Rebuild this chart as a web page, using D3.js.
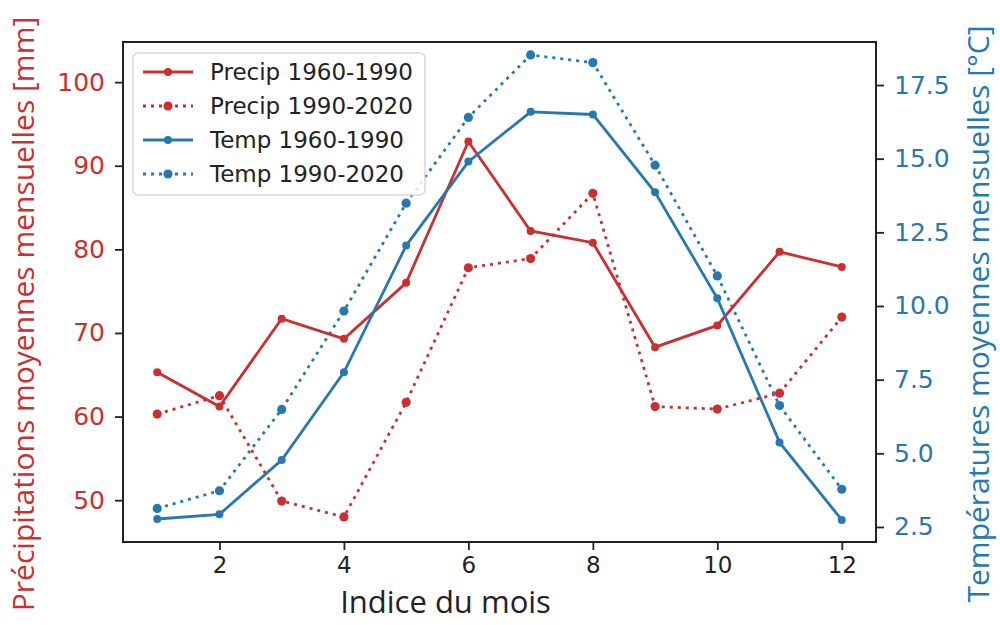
<!DOCTYPE html>
<html>
<head>
<meta charset="utf-8">
<script src="https://cdn.jsdelivr.net/npm/d3@7"></script>
<style>
  body { margin: 0; background: #fff; }
  svg { display: block; }
</style>
</head>
<body>
<svg id="chart"></svg>
<script>
// data
var months = [1, 2, 3, 4, 5, 6, 7, 8, 9, 10, 11, 12];
var precip6090 = [65.3, 61.2, 71.7, 69.3, 76.0, 92.9, 82.2, 80.8, 68.3, 70.9, 79.7, 77.9];
var precip9020 = [60.3, 62.5, 49.9, 48.0, 61.7, 77.8, 78.9, 86.7, 61.2, 60.9, 62.8, 71.9];
var temp6090 = [2.77, 2.93, 4.77, 7.75, 12.05, 14.9, 16.59, 16.5, 13.86, 10.26, 5.37, 2.74];
var temp9020 = [3.13, 3.73, 6.49, 9.83, 13.49, 16.4, 18.52, 18.26, 14.78, 11.02, 6.62, 3.78];
var xTicks = [2, 4, 6, 8, 10, 12];
var precipTicks = [50, 60, 70, 80, 90, 100];
var tempTicks = [2.5, 5.0, 7.5, 10.0, 12.5, 15.0, 17.5];
var legendLabels = ["Precip 1960-1990", "Precip 1990-2020", "Temp 1960-1990", "Temp 1990-2020"];

var width = 1000,
    height = 625;
var pLeft = 123, pRight = 876, pTop = 42, pBottom = 542;

var red = "#cc2f30",
    blue = "#2678b1";

var svg = d3.select("#chart")
    .attr("width", width)
    .attr("height", height);

var x = d3.scaleLinear().domain([0.45, 12.55]).range([pLeft, pRight]);
var yP = d3.scaleLinear().domain([45.0, 104.8]).range([pBottom, pTop]);
var yT = d3.scaleLinear().domain([1.99, 18.96]).range([pBottom, pTop]);

var tickFont = "'DejaVu Sans', sans-serif";

// bottom axis
var xAxis = svg.append("g")
    .attr("transform", "translate(0," + pBottom + ")")
    .call(d3.axisBottom(x).tickValues(xTicks).tickSize(8).tickPadding(7).tickFormat(d3.format("d")));
xAxis.select(".domain").remove();
xAxis.selectAll("line").attr("stroke", "#222").attr("stroke-width", 1.8);
xAxis.selectAll("text").style("font-family", tickFont).style("font-size", "23px").attr("fill", "#222");

// left axis
var yAxisL = svg.append("g")
    .attr("transform", "translate(" + pLeft + ",0)")
    .call(d3.axisLeft(yP).tickValues(precipTicks).tickSize(8).tickPadding(10).tickFormat(d3.format("d")));
yAxisL.select(".domain").remove();
yAxisL.selectAll("line").attr("stroke", "#222").attr("stroke-width", 1.8);
yAxisL.selectAll("text").style("font-family", tickFont).style("font-size", "25px").attr("fill", red);

// right axis
var yAxisR = svg.append("g")
    .attr("transform", "translate(" + pRight + ",0)")
    .call(d3.axisRight(yT).tickValues(tempTicks).tickSize(8).tickPadding(10).tickFormat(d3.format(".1f")));
yAxisR.select(".domain").remove();
yAxisR.selectAll("line").attr("stroke", "#222").attr("stroke-width", 1.8);
yAxisR.selectAll("text").style("font-family", tickFont).style("font-size", "25px").attr("fill", blue);

// frame
svg.append("rect")
    .attr("x", pLeft).attr("y", pTop)
    .attr("width", pRight - pLeft).attr("height", pBottom - pTop)
    .attr("fill", "none").attr("stroke", "#222").attr("stroke-width", 2);

var series = [
  {values: precip9020, scale: yP, color: red, dash: "3,5"},
  {values: temp9020, scale: yT, color: blue, dash: "3,5"},
  {values: precip6090, scale: yP, color: red, dash: null},
  {values: temp6090, scale: yT, color: blue, dash: null}
];

series.forEach(function(s) {
  var line = d3.line()
      .x(function(d, i) { return x(months[i]); })
      .y(function(d) { return s.scale(d); });
  svg.append("path")
      .datum(s.values)
      .attr("d", line)
      .attr("fill", "none")
      .attr("stroke", s.color)
      .attr("stroke-width", 2.8)
      .attr("stroke-dasharray", s.dash);
  svg.selectAll(null)
      .data(s.values)
    .enter().append("circle")
      .attr("cx", function(d, i) { return x(months[i]); })
      .attr("cy", function(d) { return s.scale(d); })
      .attr("r", s.dash ? 4.6 : 4)
      .attr("fill", s.color);
});

// legend
var leg = svg.append("g").attr("transform", "translate(133,53)");
leg.append("rect")
    .attr("width", 292).attr("height", 142)
    .attr("rx", 5)
    .attr("fill", "#fff").attr("fill-opacity", 0.85)
    .attr("stroke", "#d8d8d8").attr("stroke-width", 1.5);
var legColors = [red, red, blue, blue];
var legDash = [null, "3,5", null, "3,5"];
legendLabels.forEach(function(lab, i) {
  var yy = 19 + i * 34;
  leg.append("line")
      .attr("x1", 10).attr("x2", 60)
      .attr("y1", yy).attr("y2", yy)
      .attr("stroke", legColors[i]).attr("stroke-width", 2.8)
      .attr("stroke-dasharray", legDash[i]);
  leg.append("circle")
      .attr("cx", 35).attr("cy", yy)
      .attr("r", legDash[i] ? 4.6 : 4)
      .attr("fill", legColors[i]);
  leg.append("text")
      .attr("x", 77).attr("y", yy)
      .attr("dy", "0.36em")
      .style("font-family", tickFont)
      .style("font-size", "23px")
      .attr("fill", "#222")
      .text(lab);
});

// axis labels
var labelFont = "'Open Sans', sans-serif";
svg.append("text")
    .attr("x", (pLeft + pRight) / 2 - 54)
    .attr("y", 613)
    .attr("text-anchor", "middle")
    .style("font-family", labelFont)
    .style("font-size", "31px")
    .attr("fill", "#222")
    .text("Indice du mois");

svg.append("text")
    .attr("transform", "translate(34,314) rotate(-90)")
    .attr("text-anchor", "middle")
    .style("font-family", labelFont)
    .style("font-size", "30px")
    .attr("fill", red)
    .text("Précipitations moyennes mensuelles [mm]");

svg.append("text")
    .attr("transform", "translate(989,314) rotate(-90)")
    .attr("text-anchor", "middle")
    .style("font-family", labelFont)
    .style("font-size", "30px")
    .attr("fill", blue)
    .text("Températures moyennes mensuelles [°C]");
</script>
</body>
</html>
